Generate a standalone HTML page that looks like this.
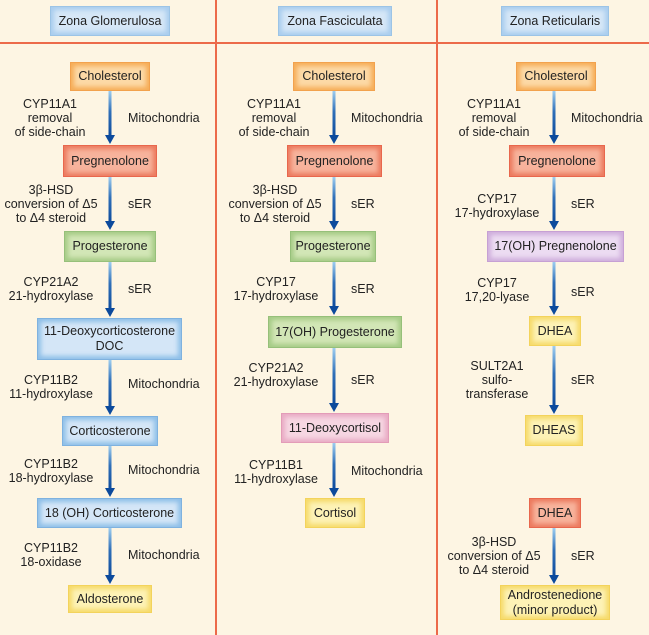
<!DOCTYPE html>
<html><head><meta charset="utf-8"><style>
html,body{margin:0;padding:0}
body{width:649px;height:635px;position:relative;background:#fdf5e3;font-family:"Liberation Sans",sans-serif;color:#222;overflow:hidden}
.b{position:absolute;box-sizing:border-box;display:flex;align-items:center;justify-content:center;text-align:center;font-size:12.5px;line-height:15px;border:1.5px solid}
.hd{border-color:#9cc4e6;background:#d6e7f7;box-shadow:inset 0 0 5px 3px #a9cdee}
.or{border-color:#f2a24e;background:#fcd9a6;box-shadow:inset 0 0 5px 3px #f6ad58}
.rd{border-color:#e8674d;background:#f7b39c;box-shadow:inset 0 0 5px 3px #ec7a5e}
.gr{border-color:#96c07a;background:#d2e6b6;box-shadow:inset 0 0 5px 3px #a5cb86}
.bl{border-color:#7fb2df;background:#d4e6f7;box-shadow:inset 0 0 5px 3px #8ebfe8}
.ye{border-color:#f3d35c;background:#fdf2b6;box-shadow:inset 0 0 5px 3px #f6da6a}
.pu{border-color:#c6a0d4;background:#ecdcf2;box-shadow:inset 0 0 5px 3px #cfaedc}
.pk{border-color:#e39cb8;background:#f6d6e2;box-shadow:inset 0 0 5px 3px #e9abc4}
.l{position:absolute;font-size:12.5px;line-height:14px;text-align:center;white-space:nowrap;transform:translate(-50%,-50%)}
.r{position:absolute;font-size:12.5px;line-height:14px;white-space:nowrap;transform:translateY(-50%)}
svg{position:absolute;left:0;top:0}
</style></head><body>
<svg width="649" height="635">
<defs>
<linearGradient id="g" x1="0" y1="0" x2="0" y2="1"><stop offset="0" stop-color="#9dcdf0"/><stop offset="0.45" stop-color="#2f6fb8"/><stop offset="1" stop-color="#0c4a9c"/></linearGradient>
</defs>
<line x1="0" y1="43" x2="649" y2="43" stroke="#ec6a4a" stroke-width="2"/>
<line x1="216" y1="0" x2="216" y2="635" stroke="#ec6a4a" stroke-width="2"/>
<line x1="437" y1="0" x2="437" y2="635" stroke="#ec6a4a" stroke-width="2"/>
<g id="arrows"></g>
</svg>
<script>
var A=[[110,91,145],[110,177,231],[110,262,318],[110,360,416],[110,446,498],[110,528,585],
[334,91,145],[334,177,231],[334,262,316],[334,348,413],[334,443,498],
[554,91,145],[554,177,231],[554,262,316],[554,346,415],[554,528,585]];
var s='';A.forEach(function(a){s+='<rect x="'+(a[0]-1.5)+'" y="'+a[1]+'" width="3" height="'+(a[2]-a[1]-8)+'" fill="url(#g)"/><polygon points="'+(a[0]-5)+','+(a[2]-10)+' '+(a[0]+5)+','+(a[2]-10)+' '+a[0]+','+(a[2]-1)+'" fill="#0c4a9c"/>';});
document.getElementById('arrows').innerHTML=s;
</script>

<div class="b hd" style="left:50px;top:6px;width:120px;height:30px">Zona Glomerulosa</div>
<div class="b hd" style="left:278px;top:6px;width:114px;height:30px">Zona Fasciculata</div>
<div class="b hd" style="left:501px;top:6px;width:108px;height:30px">Zona Reticularis</div>

<!-- col1 -->
<div class="b or" style="left:70px;top:62px;width:80px;height:29px">Cholesterol</div>
<div class="b rd" style="left:63px;top:145px;width:94px;height:32px">Pregnenolone</div>
<div class="b gr" style="left:64px;top:231px;width:92px;height:31px">Progesterone</div>
<div class="b bl" style="left:37px;top:318px;width:145px;height:42px">11-Deoxycorticosterone<br>DOC</div>
<div class="b bl" style="left:62px;top:416px;width:96px;height:30px">Corticosterone</div>
<div class="b bl" style="left:37px;top:498px;width:145px;height:30px">18 (OH) Corticosterone</div>
<div class="b ye" style="left:68px;top:585px;width:84px;height:28px">Aldosterone</div>

<div class="l" style="left:50px;top:118px">CYP11A1<br>removal<br>of side-chain</div><div class="r" style="left:128px;top:118px">Mitochondria</div>
<div class="l" style="left:51px;top:204px">3β-HSD<br>conversion of Δ5<br>to Δ4 steroid</div><div class="r" style="left:128px;top:204px">sER</div>
<div class="l" style="left:51px;top:289px">CYP21A2<br>21-hydroxylase</div><div class="r" style="left:128px;top:289px">sER</div>
<div class="l" style="left:51px;top:387px">CYP11B2<br>11-hydroxylase</div><div class="r" style="left:128px;top:384px">Mitochondria</div>
<div class="l" style="left:51px;top:471px">CYP11B2<br>18-hydroxylase</div><div class="r" style="left:128px;top:470px">Mitochondria</div>
<div class="l" style="left:51px;top:555px">CYP11B2<br>18-oxidase</div><div class="r" style="left:128px;top:555px">Mitochondria</div>

<!-- col2 -->
<div class="b or" style="left:293px;top:62px;width:82px;height:29px">Cholesterol</div>
<div class="b rd" style="left:287px;top:145px;width:95px;height:32px">Pregnenolone</div>
<div class="b gr" style="left:290px;top:231px;width:86px;height:31px">Progesterone</div>
<div class="b gr" style="left:268px;top:316px;width:134px;height:32px">17(OH) Progesterone</div>
<div class="b pk" style="left:281px;top:413px;width:108px;height:30px">11-Deoxycortisol</div>
<div class="b ye" style="left:305px;top:498px;width:60px;height:30px">Cortisol</div>

<div class="l" style="left:274px;top:118px">CYP11A1<br>removal<br>of side-chain</div><div class="r" style="left:351px;top:118px">Mitochondria</div>
<div class="l" style="left:275px;top:204px">3β-HSD<br>conversion of Δ5<br>to Δ4 steroid</div><div class="r" style="left:351px;top:204px">sER</div>
<div class="l" style="left:276px;top:289px">CYP17<br>17-hydroxylase</div><div class="r" style="left:351px;top:289px">sER</div>
<div class="l" style="left:276px;top:375px">CYP21A2<br>21-hydroxylase</div><div class="r" style="left:351px;top:380px">sER</div>
<div class="l" style="left:276px;top:472px">CYP11B1<br>11-hydroxylase</div><div class="r" style="left:351px;top:471px">Mitochondria</div>

<!-- col3 -->
<div class="b or" style="left:516px;top:62px;width:80px;height:29px">Cholesterol</div>
<div class="b rd" style="left:509px;top:145px;width:96px;height:32px">Pregnenolone</div>
<div class="b pu" style="left:487px;top:231px;width:137px;height:31px">17(OH) Pregnenolone</div>
<div class="b ye" style="left:529px;top:316px;width:52px;height:30px">DHEA</div>
<div class="b ye" style="left:525px;top:415px;width:58px;height:31px">DHEAS</div>
<div class="b rd" style="left:529px;top:498px;width:52px;height:30px">DHEA</div>
<div class="b ye" style="left:500px;top:585px;width:110px;height:35px">Androstenedione<br>(minor product)</div>

<div class="l" style="left:494px;top:118px">CYP11A1<br>removal<br>of side-chain</div><div class="r" style="left:571px;top:118px">Mitochondria</div>
<div class="l" style="left:497px;top:206px">CYP17<br>17-hydroxylase</div><div class="r" style="left:571px;top:204px">sER</div>
<div class="l" style="left:497px;top:290px">CYP17<br>17,20-lyase</div><div class="r" style="left:571px;top:292px">sER</div>
<div class="l" style="left:497px;top:380px">SULT2A1<br>sulfo-<br>transferase</div><div class="r" style="left:571px;top:380px">sER</div>
<div class="l" style="left:494px;top:556px">3β-HSD<br>conversion of Δ5<br>to Δ4 steroid</div><div class="r" style="left:571px;top:556px">sER</div>
</body></html>
